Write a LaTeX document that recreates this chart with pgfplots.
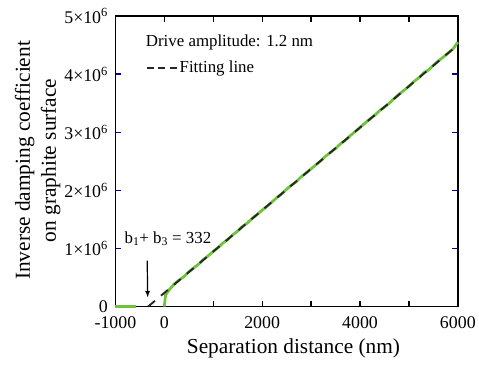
\documentclass[border=0pt]{standalone}
\usepackage{fontspec}
\setmainfont{Liberation Serif}
\usepackage{pgfplots}
\pgfplotsset{compat=1.18}
\definecolor{dgreen}{RGB}{110,195,60}
\begin{document}
\begin{tikzpicture}[x=1bp,y=1bp]
\begin{axis}[
  scale only axis,
  width=344bp, height=292bp,
  xmin=-1000, xmax=6000, ymin=0, ymax=5,
  clip=false,
  axis line style={black, line width=1.4bp},
  tick align=inside,
  major tick length=6bp,
  xtick={-1000,0,1000,2000,3000,4000,5000,6000},
  xticklabels={-1000,0,,2000,,4000,,6000},
  ytick={0,1,2,3,4,5},
  yticklabels={0,1×10\textsuperscript{6},2×10\textsuperscript{6},3×10\textsuperscript{6},4×10\textsuperscript{6},5×10\textsuperscript{6}},
  x tick style={black, line width=1.2bp},
  y tick style={blue!60!black, line width=1.2bp},
  tick label style={font=\fontsize{18}{20}\selectfont},
  xticklabel style={yshift=-9bp, inner ysep=1bp},
  yticklabel style={xshift=-4bp, inner ysep=1bp},
  /pgf/number format/assume math mode=true,
  xlabel={Separation distance (nm)},
  ylabel={Inverse damping coefficient\\on graphite surface},
  ylabel style={align=center, font=\fontsize{21.5}{26}\selectfont, at={(rel axis cs:-0.227,0.503)}, anchor=center},
  xlabel style={font=\fontsize{21.5}{24}\selectfont, at={(rel axis cs:0.52,-0.142)}, anchor=center},
  legend style={draw=none, fill=none, at={(axis cs:-380,4.11)}, anchor=west, font=\fontsize{17}{19}\selectfont, inner sep=0pt, nodes={inner sep=0pt}},
  legend cell align=left,
  legend image code/.code={\draw[#1, dash pattern=on 7bp off 4.5bp] (0bp,0bp) -- (30bp,0bp);},
]
\addplot[dgreen, line width=2.8bp, forget plot] coordinates {(-1000,0) (-580,0)};
\addplot[dgreen, line width=2.8bp, forget plot] coordinates {
(0,0) (25,0.20) (100,0.29) (200,0.385) (300,0.455) (400,0.515) (500,0.60)
(600,0.665) (700,0.73) (800,0.81) (900,0.875) (1000,0.95) (1100,1.015)
(1200,1.095) (1300,1.155) (1400,1.235) (1500,1.30) (1600,1.38) (1700,1.44)
(1800,1.52) (1900,1.585) (2000,1.66) (2100,1.725) (2200,1.80) (2300,1.875)
(2400,1.94) (2500,2.02) (2600,2.09) (2700,2.15) (2800,2.235) (2900,2.30)
(3000,2.37) (3100,2.44) (3200,2.51) (3300,2.59) (3400,2.655) (3500,2.72)
(3600,2.80) (3700,2.86) (3800,2.94) (3900,3.01) (4000,3.08) (4100,3.155)
(4200,3.225) (4300,3.29) (4400,3.37) (4500,3.43) (4600,3.50) (4700,3.58)
(4800,3.655) (4900,3.72) (5000,3.79) (5100,3.87) (5200,3.935) (5300,4.02)
(5400,4.07) (5500,4.15) (5600,4.225) (5700,4.29) (5800,4.36) (5900,4.43)
(6000,4.55)};
\addplot[black!85, line width=1.9bp, dash pattern=on 9bp off 8bp] coordinates {(-332,0) (6000,4.502)};
\addlegendentry{\hspace{2bp}Fitting line}
\node[anchor=west, inner sep=0pt, font=\fontsize{17}{19}\selectfont] at (axis cs:-380,4.54) {Drive amplitude: 1.2 nm};
\node[anchor=west, inner sep=0pt, font=\fontsize{17}{19}\selectfont] at (axis cs:-816,1.17) {b\textsubscript{1}+ b\textsubscript{3} = 332};
\draw[-{latex}, black, line width=1.2bp] (axis cs:-350,0.79) -- (axis cs:-340,0.16);
\path (rel axis cs:-0.337,-0.202) rectangle (rel axis cs:1.0552,1.0548);
\end{axis}
\end{tikzpicture}
\end{document}
